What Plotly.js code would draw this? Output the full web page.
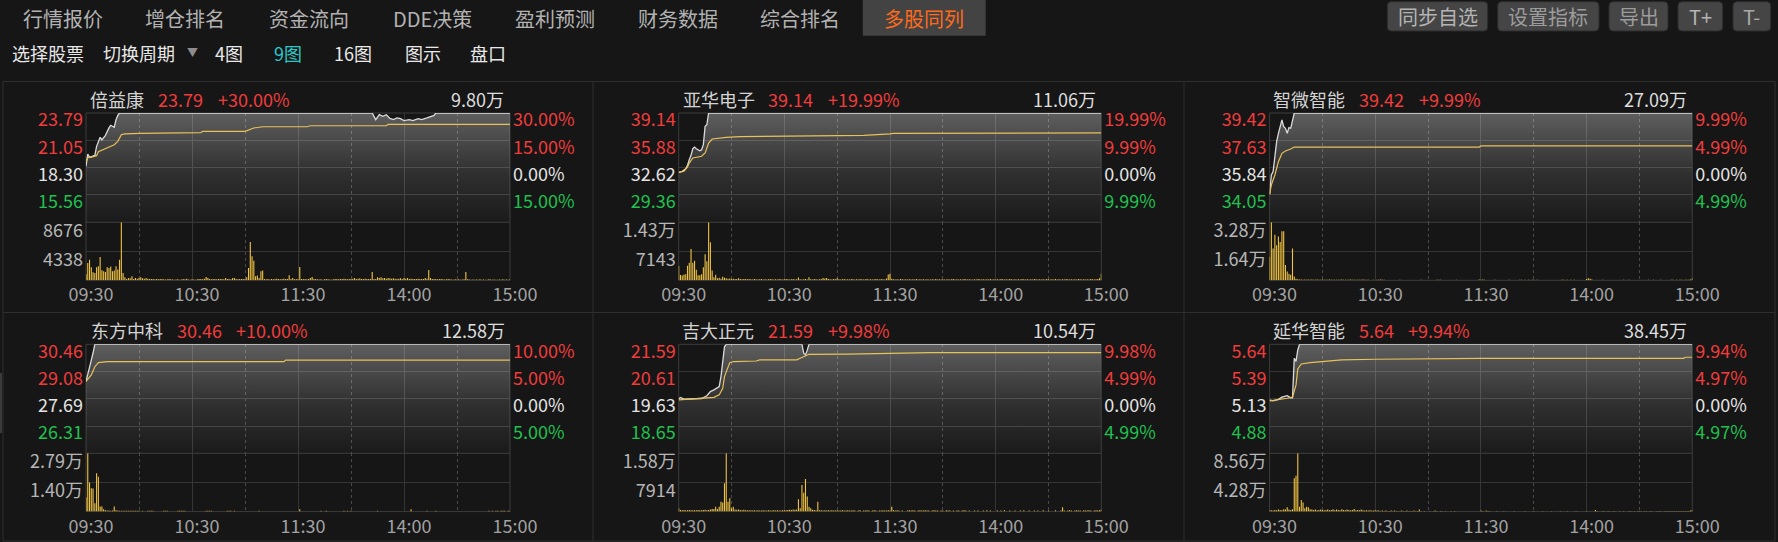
<!DOCTYPE html>
<html><head><meta charset="utf-8">
<script src="https://cdn.plot.ly/plotly-3.0.1.min.js"></script>
<style>html,body{margin:0;padding:0;background:#161616;overflow:hidden}</style>
</head><body><div id="chart" style="width:1778px;height:542px"></div>
<script>
// ---------- data ----------
const names = ['倍益康','亚华电子','智微智能','东方中科','吉大正元','延华智能'];
const lastPrice = ['23.79','39.14','39.42','30.46','21.59','5.64'];
const changePct = ['+30.00%','+19.99%','+9.99%','+10.00%','+9.98%','+9.94%'];
const totalVol = ['9.80万','11.06万','27.09万','12.58万','10.54万','38.45万'];
const prevClose = [18.30, 32.62, 35.84, 27.69, 19.63, 5.13];
const limitPrice = [23.79, 39.14, 39.42, 30.46, 21.59, 5.64];
const priceTickText = [
  ['23.79','21.05','18.30','15.56'], ['39.14','35.88','32.62','29.36'], ['39.42','37.63','35.84','34.05'],
  ['30.46','29.08','27.69','26.31'], ['21.59','20.61','19.63','18.65'], ['5.64','5.39','5.13','4.88']];
const pctTickText = [
  ['30.00%','15.00%','0.00%','15.00%'], ['19.99%','9.99%','0.00%','9.99%'], ['9.99%','4.99%','0.00%','4.99%'],
  ['10.00%','5.00%','0.00%','5.00%'], ['9.98%','4.99%','0.00%','4.99%'], ['9.94%','4.97%','0.00%','4.97%']];
const volMax = [8676, 14286, 32800, 27900, 15828, 85600];
const volTickText = [['8676','4338'],['1.43万','7143'],['3.28万','1.64万'],['2.79万','1.40万'],['1.58万','7914'],['8.56万','4.28万']];
const timeTickVals = [0, 60, 120, 180, 240];
const timeTickText = ['09:30','10:30','11:30','14:00','15:00'];
const halfHourVals = [30, 90, 150, 210];

// 倍益康
const p1Time = [0,1,2,3,5,6,8,9,10,11,13,14,16,17,18,19,162,163,164,166,168,170,172,174,176,178,180,183,185,188,190,193,196,197,198,240];
const p1Price = [18.43,19.67,19.33,19.40,19.53,20.44,21.35,21.08,21.28,21.55,22.29,22.56,22.36,23.12,23.55,23.79,23.79,23.45,23.12,23.62,23.45,23.62,23.25,23.12,23.29,23.22,23.02,23.12,23.02,23.22,23.12,23.29,23.45,23.55,23.79,23.79];
const p1AvgTime = [0,1,3,6,7,11,16,18,20,22,30,65,66,90,92,95,100,125,127,170,171,240];
const p1Avg = [18.90,19.30,19.35,19.50,19.90,20.20,20.60,20.94,21.61,21.70,21.75,21.81,21.95,21.95,22.11,22.28,22.41,22.41,22.51,22.51,22.65,22.65];
const p1Vol = [
 900,2590,3090,1950,1200,1100,1950,2100,3490,1500,
 1350,1250,1950,1850,2050,1350,1450,2100,1600,3090,
 8676,1100,450,200,350,320,600,200,350,250,
 350,450,300,250,350,250,200,180,200,150,
 200,150,180,200,150,120,150,180,150,120,
 100,120,150,100,120,180,150,250,120,100,
 150,120,100,150,180,200,150,250,500,350,
 200,150,200,180,150,200,180,200,150,350,
 200,180,150,350,350,200,150,200,180,200,
 200,450,1850,5730,3590,2940,600,700,350,1350,
 1450,200,150,200,120,180,150,200,250,180,
 150,200,250,180,200,750,200,350,150,200,
 150,2000,200,180,200,150,200,350,500,200,
 180,150,120,150,100,150,180,150,120,100,
 150,180,200,150,200,180,250,200,150,200,
 180,250,350,200,250,300,200,180,250,200,
 180,200,1250,200,200,450,350,450,300,350,
 250,350,300,250,300,250,200,250,300,200,
 350,250,350,200,250,200,180,200,250,200,
 180,200,350,250,1550,350,200,200,180,150,
 200,180,150,120,150,180,150,120,100,150,
 120,150,100,120,150,1250,150,120,100,120,
 100,120,100,150,100,120,100,100,150,120,
 100,120,100,100,120,100,150,100,120,100,
 150];

// 亚华电子
const p2Time = [0,2,4,5,6,7,8,9,10,12,13,14,15,16,17,240];
const p2Price = [32.06,32.18,32.50,32.90,33.57,34.09,34.88,35.08,34.88,34.64,34.76,35.36,37.55,37.75,39.14,39.14];
const p2AvgTime = [0,3,5,6,8,10,13,15,17,19,22,27,35,60,105,120,122,240];
const p2Avg = [32.06,32.20,32.70,33.17,33.77,33.86,33.98,34.38,35.56,36.04,36.12,36.24,36.32,36.40,36.48,36.64,36.70,36.76];
const p2Vol = [
 3500,1300,1200,1400,1500,3600,4300,7700,4300,4800,
 2600,1250,1250,1500,3200,6400,4700,14286,9400,2400,
 750,1350,500,650,400,850,650,500,400,450,
 350,400,300,350,500,300,250,300,350,250,
 300,250,200,300,250,200,250,300,200,250,
 200,250,300,250,200,250,200,300,250,200,
 250,300,250,200,250,300,200,250,700,250,
 200,250,300,200,740,250,200,300,250,200,
 250,300,570,450,570,300,250,200,300,250,
 500,250,200,250,300,200,250,200,300,250,
 200,250,200,300,250,200,250,300,200,250,
 200,250,300,250,200,300,250,200,450,1400,
 1640,400,250,200,250,200,300,250,200,250,
 200,250,200,250,200,300,200,250,200,250,
 200,250,200,200,250,200,300,200,250,200,
 250,200,200,250,200,250,300,200,250,200,
 250,200,300,250,200,250,200,200,250,200,
 300,250,200,250,200,250,200,300,200,250,
 200,250,200,300,250,200,250,200,300,250,
 200,250,200,250,200,300,250,200,250,200,
 250,200,300,250,200,250,200,250,200,300,
 250,200,250,200,300,200,250,200,250,200,
 300,250,200,250,200,250,200,300,250,200,
 250,200,250,200,300,250,200,250,300,500,
 1600];

// 智微智能
const p3Time = [0,1,2,3,4,5,6,7,8,9,10,11,12,13,14,240];
const p3Price = [34.09,35.36,35.58,36.67,37.54,38.09,38.63,38.96,38.52,38.42,38.09,38.46,38.42,38.96,39.42,39.42];
const p3AvgTime = [0,1,3,5,7,9,12,14,119,120,240];
const p3Avg = [34.09,34.71,35.36,36.23,36.78,36.93,37.06,37.19,37.19,37.26,37.26];
const p3Vol = [
 13300,32800,18000,25800,19800,24800,21700,27800,27800,8700,
 5000,3700,3100,18000,2200,900,600,400,500,300,
 400,350,500,300,400,350,300,450,350,300,
 400,300,350,300,400,300,350,300,300,350,
 300,400,300,350,300,300,400,300,350,300,
 300,350,300,400,300,350,300,0,0,300,
 0,350,300,400,350,300,0,0,0,0,
 0,0,0,0,350,0,0,0,0,0,
 0,0,0,0,0,0,350,0,0,0,
 0,0,0,0,0,300,350,300,0,0,
 0,0,0,0,0,0,350,0,0,0,
 0,0,0,0,0,0,0,0,0,400,
 350,400,300,0,0,0,0,0,350,0,
 0,0,0,0,0,0,350,0,0,0,
 0,0,350,300,0,350,0,300,0,350,
 300,0,350,0,0,0,0,0,0,0,
 0,0,0,0,0,0,350,300,0,350,
 0,300,0,350,0,0,0,0,0,0,
 700,1200,900,500,0,0,0,0,0,350,
 0,0,0,0,0,0,0,0,0,0,
 0,350,0,0,300,0,0,0,0,0,
 0,0,0,0,0,350,0,0,300,0,
 0,0,350,0,0,0,0,0,350,300,
 0,350,0,300,350,0,300,350,300,400,
 1300];

// 东方中科
const p4Time = [0,1,2,3,4,5,240];
const p4Price = [28.57,28.99,29.24,29.66,30.03,30.46,30.46];
const p4AvgTime = [0,3,5,7,12,112,113,240];
const p4Avg = [28.57,28.90,29.32,29.53,29.58,29.58,29.66,29.66];
const p4Vol = [
 6700,27900,13900,11200,11000,4000,18300,16700,2400,2400,
 1100,600,500,500,450,500,2400,700,500,450,
 400,450,400,450,400,400,450,400,400,450,
 400,0,450,0,0,400,450,400,400,0,
 0,0,0,0,450,400,450,0,0,0,
 0,0,450,400,450,400,450,0,0,0,
 0,0,0,0,0,0,0,0,450,400,
 450,400,0,0,0,0,0,0,0,0,
 450,400,450,0,450,0,0,0,0,0,
 0,0,0,0,0,0,0,0,450,0,
 0,0,0,0,0,0,0,0,0,0,
 0,0,0,0,0,0,0,0,0,0,
 0,1100,0,0,0,0,0,0,0,0,
 0,0,0,450,0,0,450,0,0,0,
 0,0,0,0,0,0,450,0,450,0,
 450,0,0,0,0,0,0,0,0,0,
 0,0,0,0,0,450,0,0,0,0,
 0,0,0,0,0,0,0,0,0,0,
 0,0,0,0,1100,0,0,0,0,0,
 0,0,0,450,0,0,0,0,450,0,
 0,0,0,0,0,0,0,0,0,0,
 0,0,0,0,0,0,0,0,0,0,
 0,0,0,0,0,0,0,0,450,0,
 450,0,450,400,0,450,400,450,0,450,
 400];

// 吉大正元
const p5Time = [0,1,3,7,13,16,18,20,22,23,24,25,26,27,70,71,72,73,74,240];
const p5Price = [19.62,19.68,19.62,19.62,19.64,19.74,19.89,19.95,20.05,20.07,20.43,21.03,21.50,21.59,21.59,21.27,21.21,21.38,21.59,21.59];
const p5AvgTime = [0,9,16,20,23,25,26,28,29,31,44,46,67,69,72,74,96,142,143,240];
const p5Avg = [19.59,19.62,19.65,19.68,19.77,20.01,20.43,20.79,20.93,20.97,20.99,21.03,21.03,21.09,21.17,21.23,21.24,21.27,21.29,21.29];
const p5Vol = [
 900,450,400,450,350,400,450,350,400,350,
 400,450,350,400,450,500,400,450,600,700,
 700,1350,700,1350,2700,2440,7680,15828,2700,3600,
 900,1350,600,500,600,450,400,500,400,350,
 400,350,300,350,300,350,300,300,350,300,
 300,350,300,300,350,300,350,300,300,350,
 400,350,450,500,450,600,500,600,3350,900,
 7230,5150,8860,4070,1350,900,500,450,400,2700,
 400,350,300,350,300,350,300,350,300,300,
 350,300,300,350,300,300,350,300,300,350,
 300,0,300,350,0,300,300,350,300,0,
 300,350,300,0,300,300,350,300,300,350,
 300,1350,350,300,350,300,0,300,0,0,
 300,350,300,350,300,0,300,350,300,300,
 350,300,300,0,300,350,300,300,0,300,
 300,0,350,300,300,0,300,0,300,300,
 0,300,350,300,0,300,0,0,300,0,
 300,0,0,300,0,350,0,300,0,0,
 0,300,0,300,0,350,0,0,300,0,
 0,300,0,0,300,0,350,0,0,300,
 0,0,300,0,300,0,0,350,0,0,
 300,0,0,0,350,0,0,300,1170,300,
 0,300,350,300,0,300,350,300,300,0,
 350,300,300,350,300,0,300,350,300,350,
 600];

// 延华智能
const p6Time = [0,2,5,7,10,12,13,14,15,16,17,240];
const p6Price = [5.12,5.11,5.125,5.145,5.16,5.14,5.14,5.51,5.48,5.587,5.64,5.64];
const p6AvgTime = [0,5,10,13,15,16,18,23,29,41,60,120,235,236,240];
const p6Avg = [5.11,5.12,5.135,5.145,5.26,5.41,5.456,5.468,5.478,5.494,5.50,5.509,5.509,5.519,5.519];
const p6Vol = [
 2500,2000,1500,2500,2000,3000,2500,2000,3500,3000,
 6400,3000,2500,3500,48900,52800,85600,7300,17100,13200,
 4900,7300,6400,3400,3000,2500,3000,2000,2500,3000,
 2500,2000,2500,3000,2000,2500,3500,2000,3000,2500,
 2000,3500,2500,2000,3000,2500,2000,2500,4000,2000,
 2500,2000,3000,2000,1500,2000,1500,2000,1500,1500,
 2000,1500,1500,1000,1500,1000,1500,1000,1000,1500,
 1000,1500,1000,1000,1000,1500,1000,1000,1500,1000,
 1000,1000,1500,1000,1000,3000,1000,0,1000,0,
 0,1000,0,1000,1500,1000,0,1000,1000,0,
 1000,0,0,1000,0,1000,0,0,0,0,
 0,0,0,0,0,0,0,0,0,0,
 1500,1000,0,1500,1000,1000,0,0,0,1000,
 0,0,0,1000,0,0,0,0,0,1000,
 0,0,0,0,0,1000,0,0,0,0,
 1000,0,0,0,0,1000,0,0,0,0,
 1000,0,0,0,0,1000,0,0,0,1000,
 0,0,0,0,1000,0,0,0,0,0,
 1000,0,0,0,0,2400,1000,0,0,1000,
 1000,0,1000,1000,0,1000,1000,0,0,1000,
 0,1000,0,0,1000,1000,0,1000,0,1000,
 1000,1000,0,1000,1000,0,1000,1000,0,0,
 1000,1000,1000,0,1000,1000,1000,1000,1000,1000,
 1000,1000,1000,1000,1000,1000,1000,1000,1000,1500,
 2400];

const navTabs = ['行情报价','增仓排名','资金流向','DDE决策','盈利预测','财务数据','综合排名','多股同列'];
const subMenu = ['选择股票','切换周期','4图','9图','16图','图示','盘口'];
const buttons = ['同步自选','设置指标','导出','T+','T-'];

// ---------- layout helpers ----------
const W = 1778, H = 542;
const FONT = '"Microsoft YaHei", "Noto Sans CJK SC", "Noto Sans", sans-serif';
const RED = '#f03c3c', GREEN = '#20c050', WHITE = '#e4e4e4';
const GRID = '#363636';
const px = x => x / W, py = y => 1 - y / H;
const colX = [[86, 510], [678.7, 1101.3], [1269.6, 1692.3]];
const rowY = [[113, 222.3, 280.3], [344.3, 453.3, 511.6]];
const titleY = [98.7, 330];
const titlePos = [[89,157,217,505],[681.7,767,826.7,1097],[1271.6,1358,1418,1688],
                  [90,176,235.4,506],[681.4,766.8,826.8,1097],[1271.6,1358,1406.5,1688]];
const tickColors = [RED, RED, WHITE, GREEN];

const series = [
  {t:p1Time, p:p1Price, at:p1AvgTime, a:p1Avg, v:p1Vol},
  {t:p2Time, p:p2Price, at:p2AvgTime, a:p2Avg, v:p2Vol},
  {t:p3Time, p:p3Price, at:p3AvgTime, a:p3Avg, v:p3Vol},
  {t:p4Time, p:p4Price, at:p4AvgTime, a:p4Avg, v:p4Vol},
  {t:p5Time, p:p5Price, at:p5AvgTime, a:p5Avg, v:p5Vol},
  {t:p6Time, p:p6Price, at:p6AvgTime, a:p6Avg, v:p6Vol}];

function ann(text, x, y, size, color, xanchor) {
  return {xref:'paper', yref:'paper', x:px(x), y:py(y), text:text, showarrow:false,
          xanchor:xanchor || 'center', yanchor:'middle', borderpad:0,
          font:{family:FONT, size:size, color:color}};
}
function roundRect(x0, y0, x1, y1, r, fill, line) {
  const rx = r, ry = r;
  const d = `M${px(x0+rx)},${py(y0)} L${px(x1-rx)},${py(y0)} Q${px(x1)},${py(y0)} ${px(x1)},${py(y0+ry)} ` +
            `L${px(x1)},${py(y1-ry)} Q${px(x1)},${py(y1)} ${px(x1-rx)},${py(y1)} L${px(x0+rx)},${py(y1)} ` +
            `Q${px(x0)},${py(y1)} ${px(x0)},${py(y1-ry)} L${px(x0)},${py(y0+ry)} Q${px(x0)},${py(y0)} ${px(x0+rx)},${py(y0)} Z`;
  return {type:'path', xref:'paper', yref:'paper', path:d, fillcolor:fill, line:{color:line, width:1}, layer:'below'};
}
function lineShape(x0, y0, x1, y1, color) {
  return {type:'line', xref:'paper', yref:'paper', x0:px(x0), y0:py(y0), x1:px(x1), y1:py(y1),
          line:{color:color, width:1}, layer:'below'};
}

const layout = {
  width: W, height: H, margin:{l:0, r:0, t:0, b:0},
  paper_bgcolor:'#161616', plot_bgcolor:'rgba(0,0,0,0)',
  showlegend:false, hovermode:false, font:{family:FONT},
  shapes:[], annotations:[]
};
const traces = [];
const minuteIndex = p1Vol.map((_, i) => i);

series.forEach((s, p) => {
  const c = p % 3, r = Math.floor(p / 3);
  const [xl, xr] = colX[c];
  const [yt, ym, yb] = rowY[r];
  const xn = p === 0 ? '' : String(p + 1);
  const xRef = 'x' + xn;
  const yName = i => i === 1 ? 'yaxis' : 'yaxis' + i;
  const yRef = i => i === 1 ? 'y' : 'y' + i;
  const iP = 3*p + 1, iPct = 3*p + 2, iV = 3*p + 3;
  const top = limitPrice[p], prev = prevClose[p], d = (top - prev) / 2, lo = prev - 2*d;
  const tv = [top, prev + d, prev, prev - d];
  const tickFont = {family:FONT, size:18, color:WHITE};

  layout['xaxis' + xn] = {
    domain:[px(xl), px(xr)], anchor:yRef(iV), range:[0, 240],
    tickvals:timeTickVals, ticktext:timeTickText, ticks:'',
    showgrid:true, gridcolor:GRID, gridwidth:1, zeroline:false, showline:false,
    tickfont:{family:FONT, size:18, color:'#a2a2a2'}, ticklabelshift:5, ticklabelstandoff:2,
    minor:{tickvals:halfHourVals, showgrid:true, gridcolor:'#4a4a4a', griddash:'dot', gridwidth:1, ticks:''},
    fixedrange:true
  };
  layout[yName(iP)] = {
    domain:[py(ym), py(yt)], anchor:xRef, range:[lo, top], tickvals:tv,
    ticktext:priceTickText[p].map((t, i) => `<span style="color:${tickColors[i]}">${t}</span>`),
    ticks:'', showgrid:true, gridcolor:GRID, zeroline:false, showline:false,
    tickfont:tickFont, ticklabelshift:7, ticklabelstandoff:2, fixedrange:true
  };
  layout[yName(iPct)] = {
    overlaying:yRef(iP), side:'right', anchor:xRef, range:[lo, top], tickvals:tv,
    ticktext:pctTickText[p].map((t, i) => `<span style="color:${tickColors[i]}">${t}</span>`),
    ticks:'', showgrid:false, zeroline:false, showline:false,
    tickfont:tickFont, ticklabelshift:7, ticklabelstandoff:2, fixedrange:true
  };
  layout[yName(iV)] = {
    domain:[py(yb), py(ym)], anchor:xRef, range:[0, volMax[p]],
    tickvals:[volMax[p], volMax[p] / 2], ticktext:volTickText[p], ticks:'',
    showgrid:true, gridcolor:GRID, zeroline:false, showline:false,
    tickfont:{family:FONT, size:18, color:'#b6b6b6'}, ticklabelshift:8, ticklabelstandoff:2, fixedrange:true
  };

  traces.push({
    type:'scatter', mode:'lines', x:s.t, y:s.p, xaxis:xRef, yaxis:yRef(iP),
    line:{color:'#dadada', width:1.3}, fill:'tozeroy',
    fillgradient:{type:'vertical', start:lo, stop:top,
      colorscale:[[0,'rgba(255,255,255,0.02)'],[0.45,'rgba(255,255,255,0.11)'],[1,'rgba(255,255,255,0.31)']]},
    hoverinfo:'skip'
  });
  traces.push({
    type:'scatter', mode:'lines', x:s.at, y:s.a, xaxis:xRef, yaxis:yRef(iPct),
    line:{color:'#e8c15a', width:1.2}, hoverinfo:'skip'
  });
  traces.push({
    type:'bar', x:minuteIndex, y:s.v, xaxis:xRef, yaxis:yRef(iV), width:0.62,
    marker:{color:'#f2c444', line:{width:0}}, hoverinfo:'skip'
  });

  // plot frame
  layout.shapes.push({type:'rect', xref:'paper', yref:'paper', x0:px(xl), x1:px(xr), y0:py(yb), y1:py(yt),
                      line:{color:'#3c3c3c', width:1}, fillcolor:'rgba(0,0,0,0)', layer:'below'});
  layout.shapes.push(lineShape(xl, ym, xr, ym, '#3c3c3c'));

  // panel title row
  const tp = titlePos[p], ty = titleY[r];
  layout.annotations.push(ann(names[p], tp[0], ty, 18, '#d4d4d4', 'left'));
  layout.annotations.push(ann(lastPrice[p], tp[1], ty, 18, RED, 'left'));
  layout.annotations.push(ann(changePct[p], tp[2], ty, 18, RED, 'left'));
  layout.annotations.push(ann(totalVol[p], tp[3], ty, 18, '#dedede', 'right'));
});

// panel separators
const SEP = '#2e2e2e';
layout.shapes.push(lineShape(3, 81.5, 1775, 81.5, SEP));
layout.shapes.push(lineShape(3, 312.5, 1775, 312.5, SEP));
layout.shapes.push(lineShape(3, 541, 1775, 541, SEP));
[3, 593, 1184, 1775].forEach(x => layout.shapes.push(lineShape(x, 81.5, x, 541, SEP)));
layout.shapes.push({type:'rect', xref:'paper', yref:'paper', x0:px(0), x1:px(2), y0:py(433), y1:py(373),
                    fillcolor:'#3a3a3a', line:{width:0}, layer:'below'});

// top navigation
const tabX = [62.8, 185.3, 308.8, 432.5, 554.8, 678.2, 800.2, 924];
layout.shapes.push({type:'rect', xref:'paper', yref:'paper', x0:px(862.8), x1:px(985.7), y0:py(35.7), y1:py(0),
                    fillcolor:'#434343', line:{width:0}, layer:'below'});
navTabs.forEach((t, i) => layout.annotations.push(
  ann(t, tabX[i], 18.3, 20, i === navTabs.length - 1 ? '#ff6a1a' : '#b2b2b2')));

const subX = [48, 138.7, 229, 287.5, 352.5, 423.3, 487.5];
subMenu.forEach((t, i) => layout.annotations.push(
  ann(t, subX[i], 53.3, 18, t === '9图' ? '#2ec7c7' : '#e8e8e8')));
layout.annotations.push(ann('▼', 192, 52.5, 11, '#8c8c8c'));

const btnBox = [[1387.3,1487.7],[1497.7,1599],[1609,1668],[1678,1722.7],[1733,1770.7]];
const btnColor = ['#b4b4b4','#9c9c9c','#9c9c9c','#b4b4b4','#a8a8a8'];
buttons.forEach((t, i) => {
  const [x0, x1] = btnBox[i];
  layout.shapes.push(roundRect(x0, 1.7, x1, 31, 4, '#454545', '#2c2c2c'));
  layout.annotations.push(ann(t, (x0 + x1) / 2, 16.6, 20, btnColor[i]));
});

Plotly.newPlot('chart', traces, layout, {staticPlot:true, displayModeBar:false});
</script>
</body></html>
